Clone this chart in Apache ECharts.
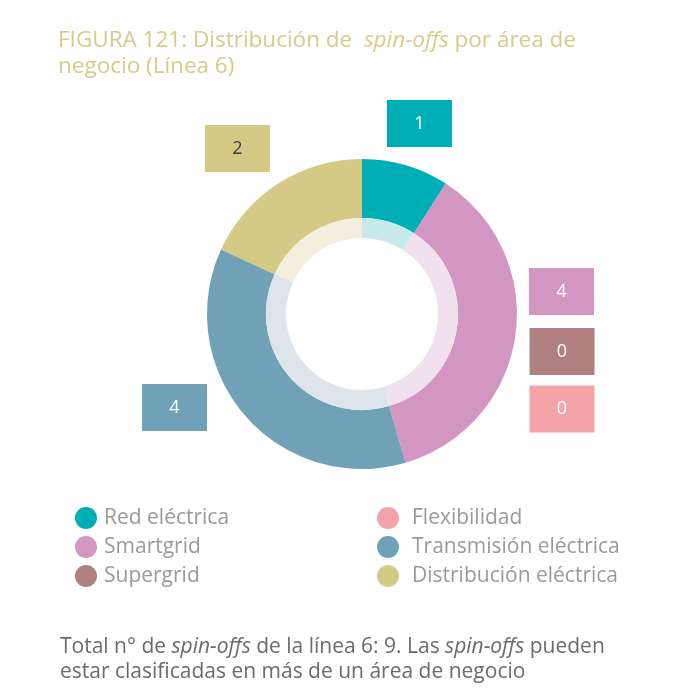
<!DOCTYPE html>
<html>
<head>
<meta charset="utf-8">
<script src="https://cdn.jsdelivr.net/npm/echarts@6/dist/echarts.min.js"></script>
<style>html,body{margin:0;padding:0;background:#fff}#c{width:700px;height:700px}</style>
</head>
<body>
<div id="c"></div>
<script>
const categories = ['Red eléctrica', 'Smartgrid', 'Supergrid', 'Flexibilidad', 'Transmisión eléctrica', 'Distribución eléctrica'];
const values = [1, 4, 0, 0, 4, 2];
const colors = ['#00aeb5', '#d396c3', '#b08081', '#f4a3a9', '#71a1b7', '#d5ca85'];
const innerColors = ['#c8e9eb', '#f1e0ee', '#ecdcdc', '#fde8e9', '#dde4ea', '#f2efdc'];
const labelTextColors = ['#ffffff', '#ffffff', '#ffffff', '#ffffff', '#ffffff', '#3a3a48'];
const legendLeft = ['Red eléctrica', 'Smartgrid', 'Supergrid'];
const legendRight = ['Flexibilidad', 'Transmisión eléctrica', 'Distribución eléctrica'];

// label box centres (layout)
const labelCentres = [[419.5, 123.5], [561.5, 291.5], [562, 351.5], [562, 409], [174.5, 407.5], [237.5, 148.5]];

const FONT = 'Open Sans';
const chart = echarts.init(document.getElementById('c'), null, {renderer: 'canvas'});

const outerData = categories.map((name, i) => ({
  name: name,
  value: values[i],
  itemStyle: {color: colors[i]},
  label: {backgroundColor: colors[i], color: labelTextColors[i]}
}));
const innerData = categories.map((name, i) => ({
  name: name,
  value: values[i],
  itemStyle: {color: innerColors[i]}
}));

chart.setOption({
  animation: false,
  color: colors,
  title: [{
    left: 53, top: 23,
    text: '{n|FIGURA 121: Distribución de  }{i|spin-offs}{n| por área de}\n{n|negocio (Línea 6)}',
    textStyle: {
      rich: {
        n: {fontFamily: FONT, fontSize: 22.5, fontWeight: 'normal', color: '#d6cb88', lineHeight: 26},
        i: {fontFamily: FONT, fontSize: 22.5, fontWeight: 'normal', color: '#d6cb88', fontStyle: 'italic', lineHeight: 26}
      }
    }
  }, {
    left: 55, top: 630,
    text: '{n|Total n° de }{i|spin-offs}{n| de la línea 6: 9. Las }{i|spin-offs}{n| pueden}\n{n|estar clasificadas en más de un área de negocio}',
    textStyle: {
      rich: {
        n: {fontFamily: FONT, fontSize: 21, fontWeight: 'normal', color: '#6b6b6b', lineHeight: 25},
        i: {fontFamily: FONT, fontSize: 21, fontWeight: 'normal', color: '#6b6b6b', fontStyle: 'italic', lineHeight: 25}
      }
    }
  }],
  legend: [{
    data: legendLeft,
    orient: 'vertical',
    left: 70, top: 502,
    icon: 'circle',
    itemWidth: 22, itemHeight: 22,
    itemGap: 7,
    selectedMode: false,
    textStyle: {fontFamily: FONT, fontSize: 21, color: '#9a9a9a', padding: [0, 0, 0, 2]}
  }, {
    data: legendRight,
    orient: 'vertical',
    left: 372, top: 502,
    icon: 'circle',
    itemWidth: 22, itemHeight: 22,
    itemGap: 7,
    selectedMode: false,
    textStyle: {fontFamily: FONT, fontSize: 21, color: '#9a9a9a', padding: [0, 0, 0, 8]}
  }],
  series: [{
    type: 'pie',
    center: [362, 314],
    radius: [96, 155],
    startAngle: 90,
    clockwise: true,
    silent: true,
    avoidLabelOverlap: false,
    label: {
      show: true,
      position: 'outside',
      formatter: '{c}',
      fontFamily: FONT,
      fontSize: 18,
      width: 65,
      height: 47,
      lineHeight: 47,
      align: 'center',
      verticalAlign: 'middle'
    },
    labelLine: {show: false},
    labelLayout: function (p) {
      const c = labelCentres[p.dataIndex];
      return {x: c[0], y: c[1], align: 'center', verticalAlign: 'middle', hideOverlap: false};
    },
    data: outerData
  }, {
    type: 'pie',
    center: [362, 314],
    radius: [76, 96],
    startAngle: 90,
    clockwise: true,
    silent: true,
    label: {show: false},
    labelLine: {show: false},
    data: innerData
  }]
});
</script>
</body>
</html>
